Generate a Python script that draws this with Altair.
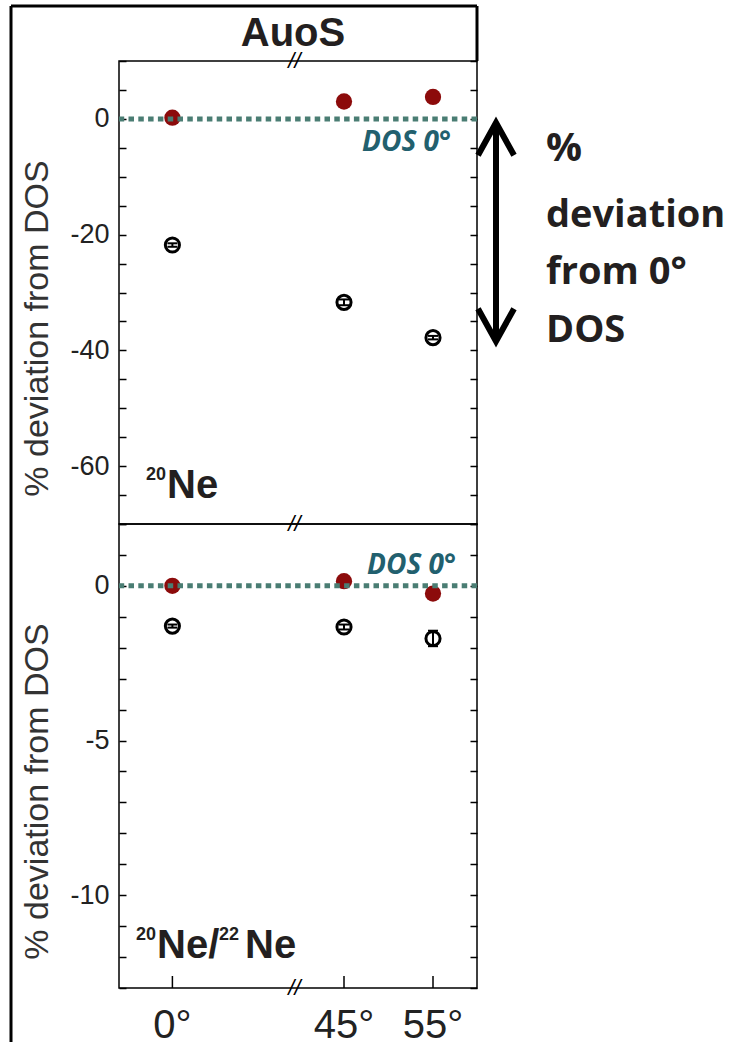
import altair as alt
import pandas as pd

# ---- data ----
angles = [0, 45, 55]
angle_labels = ["0°", "45°", "55°"]
ne20_dos = [0.2, 3.0, 3.8]          # filled red (DOS)
ne20_tilted = [-21.8, -31.7, -37.8]  # open circles
ne20_err = [0.3, 0.5, 0.3]
ratio_dos = [0.0, 0.15, -0.25]
ratio_tilted = [-1.3, -1.33, -1.7]
ratio_err = [0.05, 0.08, 0.25]
top_ticks = list(range(-70, 15, 5))
bot_ticks = list(range(-13, 3, 1))

W = 358
H1 = 463
H2 = 464
RED = "#8c0b0b"
TEAL = "#4a7d73"
DOSC = "#22606e"
INK = "#231f20"
FONT = "Liberation Sans"
ANN_FONT = "Open Sans"

one = pd.DataFrame({"k": [0]})
xlab_df = pd.DataFrame({"angle": angles, "label": angle_labels})


def panel_df(dos, tilted, err):
    return pd.DataFrame({
        "angle": angles,
        "dos": dos,
        "tilted": tilted,
        "lo": [t - e for t, e in zip(tilted, err)],
        "hi": [t + e for t, e in zip(tilted, err)],
    })


def txt(s, x, y, size, font=FONT, weight="bold", style="normal", color=INK,
        align="left", baseline="alphabetic"):
    return alt.Chart(one).mark_text(
        text=s, fontSize=size, font=font, fontWeight=weight, fontStyle=style,
        color=color, align=align, baseline=baseline
    ).encode(x=alt.value(x), y=alt.value(y))


def vrule(x, y, y2, width=3):
    return alt.Chart(one).mark_rule(color="black", strokeWidth=width).encode(
        x=alt.value(x), y=alt.value(y), y2=alt.value(y2))


def hrule(x, x2, y, width=3):
    return alt.Chart(one).mark_rule(color="black", strokeWidth=width).encode(
        x=alt.value(x), x2=alt.value(x2), y=alt.value(y))


XS = alt.Scale(domain=[-6, 0, 45, 55, 60], range=[0, 53.4, 225, 314, W],
               nice=False, zero=False)


def panel(df, domain, ticks, label_test):
    ys = alt.Scale(domain=domain, nice=False, zero=False)
    left_axis = alt.Axis(orient="left", values=ticks, labelExpr=label_test, offset=-7,
                         tickSize=7, tickWidth=1.5, tickColor="black", domain=False,
                         grid=False, labelFontSize=27, labelFont=FONT, labelColor="#222",
                         labelPadding=10, title="% deviation from DOS", titleFontSize=34,
                         titleFont=FONT, titleFontWeight="normal", titleColor="#333",
                         titlePadding=15, titleY=267, labelFlush=False, labelOverlap=False)
    right_axis = alt.Axis(orient="right", values=ticks, labels=False, offset=-7,
                          tickSize=7, tickWidth=1.5, tickColor="black", domain=False,
                          grid=False, title=None)
    base = alt.Chart(df)
    xenc = alt.X("angle:Q", scale=XS, axis=None)
    bars = base.mark_rule(color="black", strokeWidth=2).encode(
        x=xenc, y=alt.Y("lo:Q", scale=ys, axis=None), y2="hi:Q")
    cap_lo = base.mark_tick(orient="horizontal", color="black", size=10, thickness=2,
                            opacity=1).encode(x=xenc, y=alt.Y("lo:Q", scale=ys, axis=None))
    cap_hi = base.mark_tick(orient="horizontal", color="black", size=10, thickness=2,
                            opacity=1).encode(x=xenc, y=alt.Y("hi:Q", scale=ys, axis=None))
    open_pts = base.mark_point(shape="circle", filled=False, color="black", strokeWidth=3,
                               size=200, opacity=1).encode(
        x=xenc, y=alt.Y("tilted:Q", scale=ys, axis=left_axis))
    red_pts = base.mark_point(shape="circle", filled=True, color=RED, size=265,
                              opacity=1).encode(
        x=xenc, y=alt.Y("dos:Q", scale=ys, axis=right_axis))
    dash = alt.Chart(one).mark_rule(color=TEAL, strokeWidth=5,
                                    strokeDash=[5.5, 4.3]).encode(
        y=alt.YDatum(0, scale=ys, axis=None))
    layers = [bars, cap_lo, cap_hi, open_pts, red_pts, dash]

    def brk(y):
        return alt.Chart(one).mark_text(text="//", fontSize=22, font=FONT, fontStyle="italic",
                                        color="black", baseline="middle").encode(
            x=alt.XDatum(32, scale=XS, axis=None), y=alt.value(y))
    return layers, brk


# ---- top panel: 20Ne ----
top_layers, brk = panel(panel_df(ne20_dos, ne20_tilted, ne20_err), [-70, 10], top_ticks,
                        "datum.value % 20 == 0 && datum.value <= 0 && datum.value > -70 ? toString(datum.value) : ''")
top_extra = [
    hrule(-108, W, -55),
    vrule(-108, -55, H1),
    vrule(W, -55, 0),
    brk(0), brk(H1),
    txt("AuoS", 174, -15, 40, align="center"),
    txt("DOS 0°", 332, 82, 28, font=ANN_FONT, style="italic", color=DOSC,
        align="right", baseline="middle"),
    txt("20", 27, 419, 18),
    txt("Ne", 48, 437, 40),
    # right-hand annotation
    txt("%", 427, 100, 40, font=ANN_FONT),
    txt("deviation", 427, 166, 38, font=ANN_FONT),
    txt("from 0°", 427, 223, 38, font=ANN_FONT),
    txt("DOS", 427, 281, 38, font=ANN_FONT),
    vrule(377, 64, 278, width=6),
    alt.Chart(one).mark_point(shape="M -1 0.9 L 0 -0.9 L 1 0.9", filled=False, color="black",
                              strokeWidth=6, size=1296, opacity=1).encode(
        x=alt.value(377), y=alt.value(78)),
    alt.Chart(one).mark_point(shape="M -1 -0.9 L 0 0.9 L 1 -0.9", filled=False, color="black",
                              strokeWidth=6, size=1296, opacity=1).encode(
        x=alt.value(377), y=alt.value(264)),
]
top = alt.layer(*top_layers, *top_extra).properties(width=W, height=H1)

# ---- bottom panel: 20Ne/22Ne ----
bot_layers, brk2 = panel(panel_df(ratio_dos, ratio_tilted, ratio_err), [-13, 2], bot_ticks,
                         "datum.value % 5 == 0 && datum.value <= 0 && datum.value > -13 ? toString(datum.value) : ''")
x_ticks = alt.Chart(xlab_df).mark_rule(color="black", strokeWidth=1.5).encode(
    x=alt.X("angle:Q", scale=XS, axis=None), y=alt.value(H2 - 12), y2=alt.value(H2))
x_labels = alt.Chart(xlab_df).mark_text(fontSize=40, font=FONT, color="#222",
                                        align="center", baseline="alphabetic").encode(
    x=alt.X("angle:Q", scale=XS, axis=None), y=alt.value(H2 + 50), text="label:N")
bot_extra = [
    vrule(-108, 0, 518),
    brk2(H2),
    x_ticks, x_labels,
    txt("DOS 0°", 337, 42, 28, font=ANN_FONT, style="italic", color=DOSC,
        align="right", baseline="middle"),
    txt("20", 17, 416, 18),
    txt("Ne/", 38, 434, 40),
    txt("22", 100, 416, 18),
    txt("Ne", 126, 434, 40),
]
bot = alt.layer(*bot_layers, *bot_extra).properties(width=W, height=H2)

chart = alt.vconcat(top, bot, spacing=0, bounds="flush").resolve_scale(
    x="independent", y="independent"
).configure_view(stroke="black", strokeWidth=1.5).properties(
    padding={"left": 8, "top": 3, "right": 0, "bottom": 0},
    background="white",
)

chart.save("out.html", embed_options={"renderer": "svg", "actions": False})
